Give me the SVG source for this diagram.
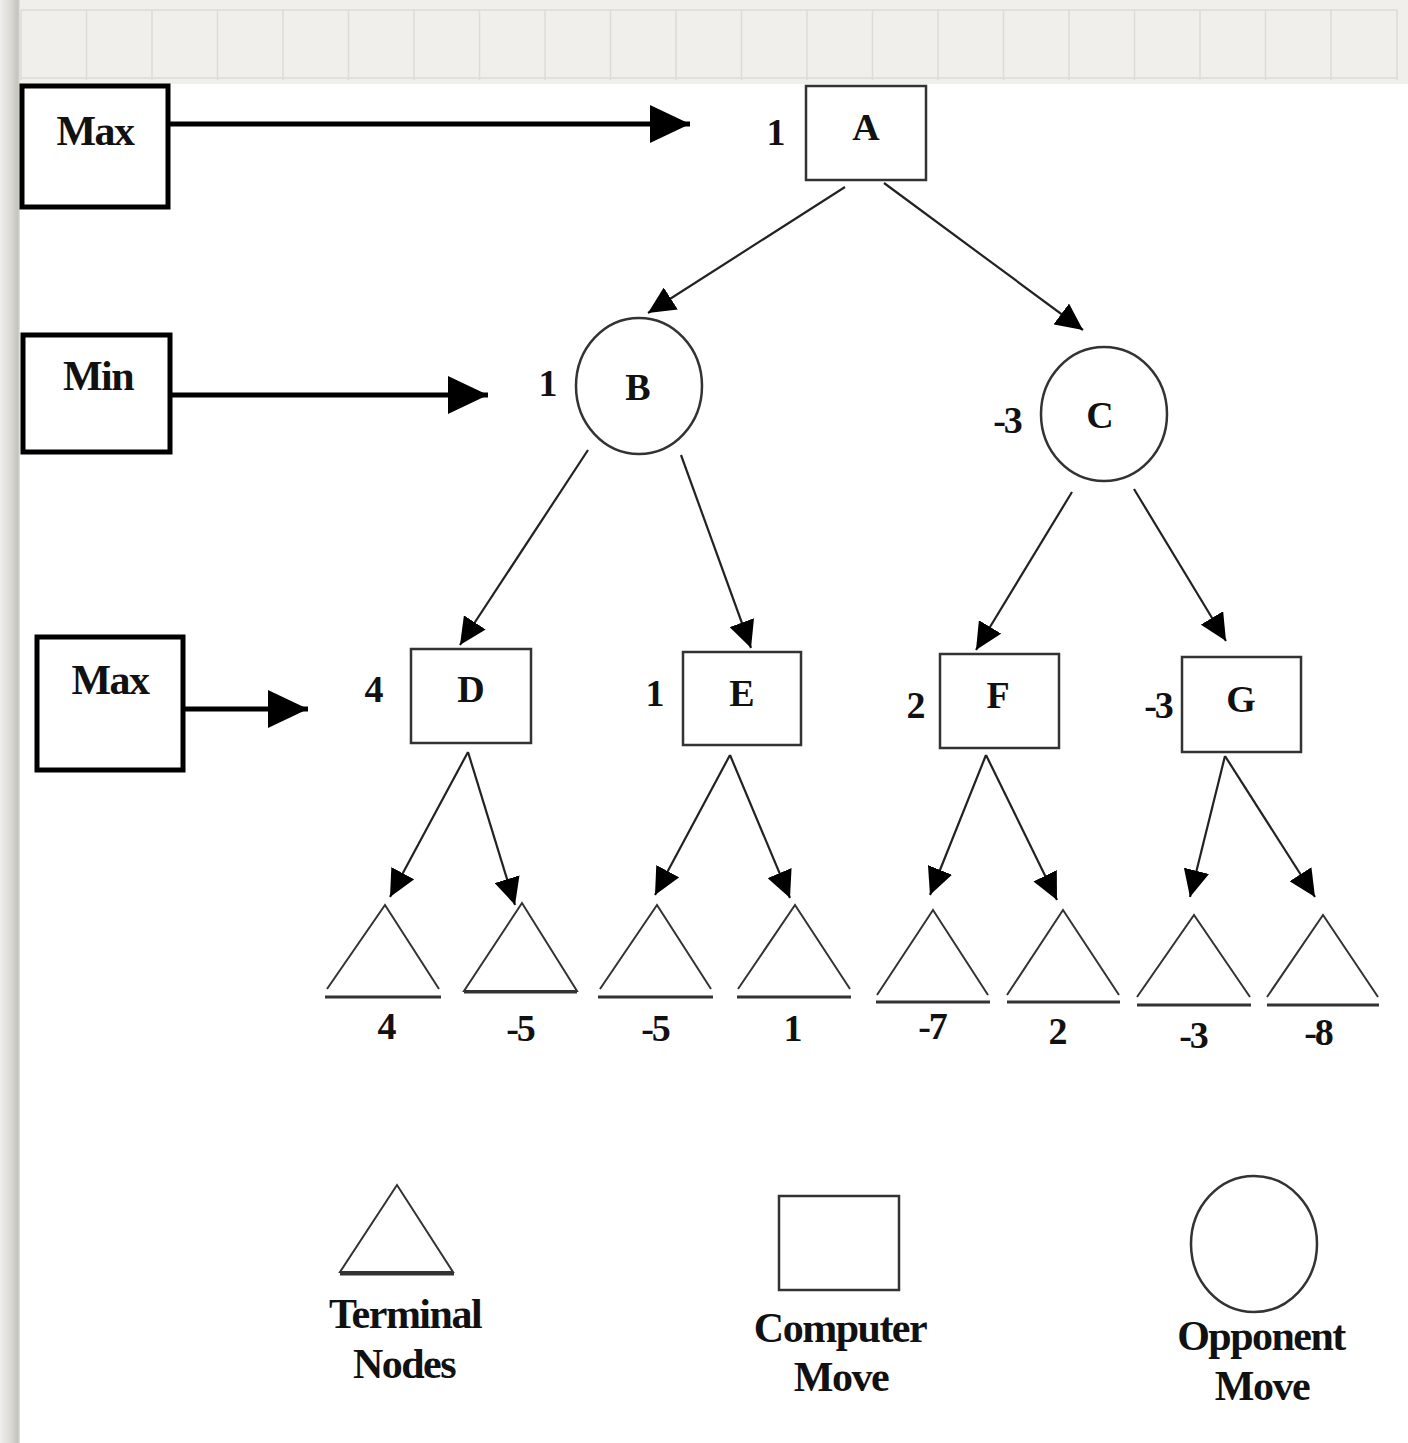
<svg xmlns="http://www.w3.org/2000/svg" width="1408" height="1443" viewBox="0 0 1408 1443">
<defs>
<style>
.t{font-family:"Liberation Serif","Times New Roman",serif;font-weight:bold;font-size:38px;text-anchor:middle;fill:#111}
.num{letter-spacing:-2px}
.big{font-size:42px;letter-spacing:-1.5px}
.node{fill:#fff;stroke:#333;stroke-width:2.5}
.lvl{fill:#fff;stroke:#000;stroke-width:5}
.edge{stroke:#222;stroke-width:2.2;fill:none}
.thick{stroke:#000;stroke-width:5;fill:none}
.tri{fill:none;stroke:#333;stroke-width:2}
.base{stroke:#333;stroke-width:3}
.grid{fill:none;stroke:#dddcd8;stroke-width:1.5}
</style>
<marker id="ah" markerUnits="userSpaceOnUse" markerWidth="28" markerHeight="26" refX="27" refY="13" orient="auto">
<path d="M0,0 L27,13 L0,26 z" fill="#000"/>
</marker>
<marker id="bah" markerUnits="userSpaceOnUse" markerWidth="40" markerHeight="38" refX="40" refY="19" orient="auto">
<path d="M0,0 L40,19 L0,38 z" fill="#000"/>
</marker>
<linearGradient id="lg" x1="0" y1="0" x2="1" y2="0">
<stop offset="0" stop-color="#efeeea"/>
<stop offset="0.5" stop-color="#dcdbd6"/>
<stop offset="0.9" stop-color="#c4c3be"/>
<stop offset="1" stop-color="#e8e7e3"/>
</linearGradient>
</defs>
<g id="background">
<rect x="0" y="0" width="1408" height="1443" fill="#fff"/>
<rect x="0" y="0" width="1408" height="84" fill="#f0efec"/>
<rect x="0" y="0" width="20" height="1443" fill="url(#lg)"/>
<path class="grid" d="M21,10 H1397 M21,78 H1397 M21,10 V80 M86.5,10 V80 M152,10 V80 M217.5,10 V80 M283,10 V80 M348.5,10 V80 M414,10 V80 M479.5,10 V80 M545,10 V80 M610.5,10 V80 M676,10 V80 M741.5,10 V80 M807,10 V80 M872.5,10 V80 M938,10 V80 M1003.5,10 V80 M1069,10 V80 M1134.5,10 V80 M1200,10 V80 M1265.5,10 V80 M1331,10 V80 M1397,10 V80"/>
</g>
<g id="connectors">
<line class="thick" x1="168" y1="124" x2="690" y2="124" marker-end="url(#bah)"/>
<line class="thick" x1="170" y1="395" x2="488" y2="395" marker-end="url(#bah)"/>
<line class="thick" x1="183" y1="709" x2="308" y2="709" marker-end="url(#bah)"/>
<line class="edge" x1="845" y1="187" x2="648" y2="313" marker-end="url(#ah)"/>
<line class="edge" x1="884" y1="183" x2="1083" y2="330" marker-end="url(#ah)"/>
<line class="edge" x1="588" y1="450" x2="460" y2="645" marker-end="url(#ah)"/>
<line class="edge" x1="681" y1="455" x2="751" y2="648" marker-end="url(#ah)"/>
<line class="edge" x1="1072" y1="492" x2="976" y2="650" marker-end="url(#ah)"/>
<line class="edge" x1="1134" y1="489" x2="1226" y2="641" marker-end="url(#ah)"/>
<line class="edge" x1="468" y1="752" x2="390" y2="897" marker-end="url(#ah)"/>
<line class="edge" x1="468" y1="752" x2="515" y2="905" marker-end="url(#ah)"/>
<line class="edge" x1="730" y1="755" x2="655" y2="895" marker-end="url(#ah)"/>
<line class="edge" x1="730" y1="755" x2="790" y2="898" marker-end="url(#ah)"/>
<line class="edge" x1="986" y1="755" x2="930" y2="895" marker-end="url(#ah)"/>
<line class="edge" x1="986" y1="755" x2="1057" y2="900" marker-end="url(#ah)"/>
<line class="edge" x1="1225" y1="756" x2="1190" y2="897" marker-end="url(#ah)"/>
<line class="edge" x1="1225" y1="756" x2="1315" y2="897" marker-end="url(#ah)"/>
</g>
<g id="level-max-1"><rect class="lvl" x="22" y="86" width="146" height="121"/><text class="t big" x="95" y="145">Max</text></g>
<g id="level-min"><rect class="lvl" x="23" y="335" width="147" height="117"/><text class="t big" x="98" y="390">Min</text></g>
<g id="level-max-2"><rect class="lvl" x="37" y="637" width="146" height="133"/><text class="t big" x="110" y="694">Max</text></g>
<g id="node-A"><rect class="node" x="806" y="86" width="120" height="94"/><text class="t" x="866" y="140">A</text><text class="t" x="776" y="145">1</text></g>
<g id="node-B"><ellipse class="node" cx="639" cy="386" rx="63" ry="68"/><text class="t" x="638" y="400">B</text><text class="t" x="548" y="396">1</text></g>
<g id="node-C"><ellipse class="node" cx="1104" cy="414" rx="63" ry="67"/><text class="t" x="1100" y="428">C</text><text class="t num" x="1007" y="433">-3</text></g>
<g id="node-D"><rect class="node" x="411" y="649" width="120" height="94"/><text class="t" x="471" y="702">D</text><text class="t" x="374" y="702">4</text></g>
<g id="node-E"><rect class="node" x="683" y="652" width="118" height="93"/><text class="t" x="742" y="706">E</text><text class="t" x="655" y="706">1</text></g>
<g id="node-F"><rect class="node" x="940" y="654" width="119" height="94"/><text class="t" x="998" y="708">F</text><text class="t" x="916" y="718">2</text></g>
<g id="node-G"><rect class="node" x="1182" y="657" width="119" height="95"/><text class="t" x="1241" y="712">G</text><text class="t num" x="1158" y="718">-3</text></g>
<g id="terminal-1"><polyline class="tri" points="327,989 385,905 439,989"/><line class="base" x1="325" y1="997" x2="441" y2="997"/><text class="t" x="387" y="1039">4</text></g>
<g id="terminal-2"><polygon class="tri" points="522,903 464,991 577,991"/><line class="base" x1="464" y1="992" x2="577" y2="992"/><text class="t num" x="520" y="1041">-5</text></g>
<g id="terminal-3"><polyline class="tri" points="600,989 657,905 711,989"/><line class="base" x1="598" y1="997" x2="713" y2="997"/><text class="t num" x="655" y="1041">-5</text></g>
<g id="terminal-4"><polyline class="tri" points="738,989 795,905 850,989"/><line class="base" x1="737" y1="997" x2="851" y2="997"/><text class="t" x="793" y="1041">1</text></g>
<g id="terminal-5"><polyline class="tri" points="877,995 933,910 988,995"/><line class="base" x1="876" y1="1002" x2="990" y2="1002"/><text class="t num" x="932" y="1039">-7</text></g>
<g id="terminal-6"><polyline class="tri" points="1007,995 1063,910 1119,995"/><line class="base" x1="1007" y1="1002" x2="1120" y2="1002"/><text class="t" x="1058" y="1044">2</text></g>
<g id="terminal-7"><polyline class="tri" points="1137,997 1194,915 1250,997"/><line class="base" x1="1137" y1="1005" x2="1251" y2="1005"/><text class="t num" x="1193" y="1048">-3</text></g>
<g id="terminal-8"><polyline class="tri" points="1267,997 1323,915 1378,997"/><line class="base" x1="1267" y1="1005" x2="1379" y2="1005"/><text class="t num" x="1318" y="1045">-8</text></g>
<g id="legend-terminal"><polygon class="tri" points="397,1185 340,1272 453,1272"/><line class="base" x1="340" y1="1274" x2="454" y2="1274"/><text class="t big" x="405" y="1328">Terminal</text><text class="t big" x="404" y="1378">Nodes</text></g>
<g id="legend-computer"><rect class="node" x="779" y="1196" width="120" height="94"/><text class="t big" x="840" y="1342">Computer</text><text class="t big" x="841" y="1391">Move</text></g>
<g id="legend-opponent"><ellipse class="node" cx="1254" cy="1244" rx="63" ry="68"/><text class="t big" x="1261" y="1350">Opponent</text><text class="t big" x="1262" y="1400">Move</text></g>
</svg>
